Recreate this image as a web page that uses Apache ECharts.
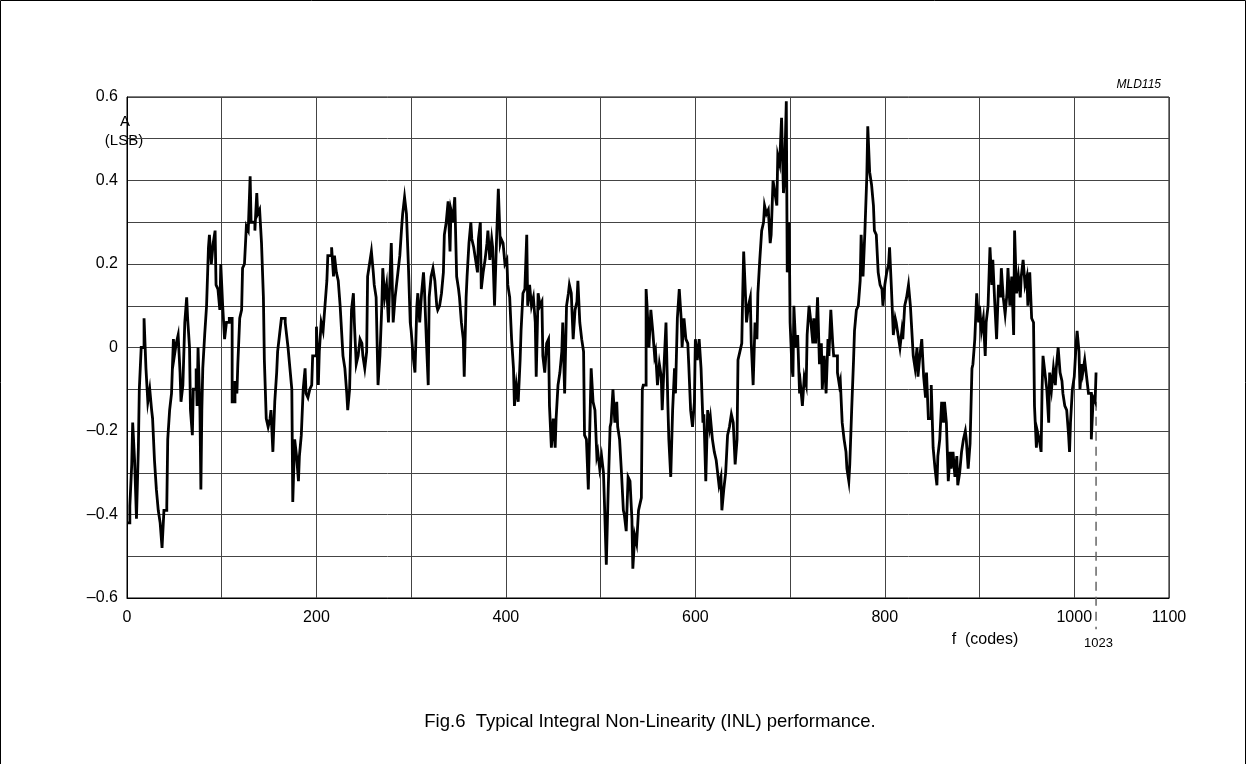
<!DOCTYPE html>
<html><head><meta charset="utf-8">
<script src="https://cdn.jsdelivr.net/npm/echarts@6/dist/echarts.min.js"></script>
<style>html,body{margin:0;padding:0;background:#fff}#c{width:1247px;height:764px}</style>
</head><body><div id="c"></div>
<script>
// INL samples: [code, A (LSB)]
const inlSamples = [
[0,-0.42],[3,-0.38],[5,-0.28],[6,-0.18],[8,-0.27],[10,-0.41],[12,-0.24],[13,-0.10],[14,-0.05],[15,0.00],[18,0.07],[20,-0.05],[22,-0.13],[24,-0.10],[26,-0.15],[27,-0.17],[29,-0.27],[31,-0.34],[33,-0.39],[35,-0.42],[37,-0.48],[39,-0.39],[42,-0.38],[43,-0.22],[45,-0.15],[47,-0.11],[49,0.02],[50,-0.02],[52,0.01],[54,0.03],[56,-0.06],[57,-0.13],[59,-0.09],[61,0.06],[63,0.12],[64,0.07],[66,0.00],[67,-0.15],[69,-0.21],[70,-0.10],[73,-0.05],[74,-0.14],[75,0.00],[77,-0.15],[78,-0.34],[79,-0.15],[80,-0.05],[82,0.03],[84,0.10],[86,0.24],[87,0.27],[89,0.20],[91,0.25],[93,0.28],[94,0.15],[96,0.14],[98,0.09],[99,0.20],[101,0.10],
[103,0.02],[105,0.06],[108,0.07],[111,-0.13],[114,-0.08],[116,-0.11],[117,-0.04],[119,0.07],[121,0.09],[122,0.19],[124,0.20],[126,0.29],[128,0.28],[130,0.41],[131,0.30],[133,0.30],[135,0.28],[137,0.37],[138,0.32],[140,0.33],[142,0.25],[144,0.12],[145,-0.03],[147,-0.17],[149,-0.19],[151,-0.17],[152,-0.15],[154,-0.25],[156,-0.13],[158,-0.06],[159,-0.01],[161,0.03],[163,0.07],[165,0.07],[167,0.06],[168,0.04],[170,0.00],[172,-0.05],[174,-0.10],[175,-0.37],[177,-0.22],[179,-0.26],[181,-0.32],[182,-0.26],[184,-0.21],[186,-0.10],[188,-0.05],[189,-0.11],[191,-0.12],[193,-0.10],[195,-0.09],[196,-0.02],[198,-0.02],[200,0.05],[202,-0.09],[203,-0.01],[205,0.06],[207,0.04],[209,0.10],[211,0.16],[212,0.22],
[214,0.22],[216,0.24],[218,0.17],[219,0.22],[221,0.18],[223,0.16],[225,0.10],[226,0.06],[228,-0.02],[230,-0.05],[232,-0.11],[233,-0.15],[235,-0.10],[237,0.09],[239,0.13],[240,0.06],[242,-0.04],[244,-0.02],[246,0.02],[248,0.01],[249,-0.02],[251,-0.05],[253,-0.01],[254,0.17],[256,0.20],[258,0.23],[260,0.18],[261,0.15],[263,0.12],[265,-0.09],[267,-0.02],[269,0.10],[270,0.19],[272,0.12],[274,0.15],[276,0.06],[277,0.13],[279,0.25],[281,0.06],[283,0.12],[284,0.14],[286,0.18],[288,0.22],[290,0.29],[291,0.32],[293,0.36],[295,0.32],[297,0.20],[299,0.06],[300,0.04],[302,-0.02],[304,-0.06],[306,0.10],[307,0.13],[309,0.06],[311,0.13],[313,0.18],[314,0.14],[316,0.02],[318,-0.09],[319,0.12],
[321,0.17],[323,0.19],[325,0.16],[327,0.10],[328,0.09],[330,0.10],[332,0.13],[334,0.18],[335,0.27],[337,0.30],[339,0.35],[341,0.23],[342,0.33],[343,0.32],[344,0.30],[346,0.36],[348,0.17],[350,0.14],[351,0.12],[353,0.06],[355,0.02],[356,-0.07],[358,0.12],[359,0.17],[361,0.25],[363,0.30],[364,0.26],[366,0.24],[368,0.21],[370,0.18],[371,0.26],[373,0.30],[374,0.14],[376,0.18],[378,0.21],[380,0.25],[381,0.28],[383,0.21],[385,0.26],[386,0.24],[388,0.10],[390,0.25],[392,0.38],[394,0.25],[395,0.26],[397,0.25],[399,0.20],[401,0.21],[402,0.15],[404,0.12],[406,0.02],[408,-0.05],[409,-0.14],[411,-0.09],[413,-0.13],[415,-0.03],[416,0.04],[418,0.13],[420,0.14],[422,0.27],[423,0.10],
[425,0.15],[427,0.10],[429,0.12],[431,0.06],[432,-0.07],[434,0.13],[436,0.10],[438,0.11],[439,-0.02],[441,-0.06],[443,0.01],[445,0.02],[446,-0.14],[448,-0.24],[450,-0.17],[452,-0.24],[453,-0.17],[455,-0.09],[457,-0.06],[459,-0.01],[460,0.06],[462,-0.11],[464,0.10],[466,0.13],[467,0.15],[469,0.13],[471,0.02],[473,0.09],[475,0.11],[476,0.16],[478,0.06],[480,0.02],[482,-0.01],[483,-0.21],[485,-0.22],[487,-0.34],[489,-0.15],[490,-0.05],[492,-0.13],[494,-0.15],[496,-0.26],[497,-0.25],[499,-0.29],[501,-0.26],[503,-0.30],[504,-0.37],[506,-0.52],[508,-0.34],[510,-0.19],[511,-0.18],[513,-0.10],[515,-0.18],[517,-0.13],[518,-0.19],[520,-0.22],[522,-0.30],[524,-0.39],[525,-0.40],[527,-0.44],[529,-0.31],
[531,-0.32],[533,-0.41],[534,-0.53],[536,-0.45],[538,-0.47],[540,-0.39],[541,-0.38],[543,-0.36],[544,-0.10],[545,-0.09],[548,0.14],[549,0.10],[551,0.00],[553,0.09],[555,0.04],[557,-0.02],[558,-0.01],[560,-0.09],[562,-0.04],[564,-0.07],[565,-0.15],[567,-0.04],[569,0.06],[571,-0.14],[572,-0.22],[574,-0.31],[576,-0.15],[578,-0.05],[579,-0.11],[581,0.07],[583,0.14],[585,0.07],[586,0.00],[588,0.07],[590,0.02],[592,0.01],[593,-0.04],[595,-0.15],[597,-0.19],[599,-0.13],[600,0.02],[602,-0.03],[604,0.02],[606,-0.05],[608,-0.18],[609,-0.16],[611,-0.32],[613,-0.15],[615,-0.19],[616,-0.17],[618,-0.22],[620,-0.25],[622,-0.27],[623,-0.29],[625,-0.33],[627,-0.31],[628,-0.39],[630,-0.34],[632,-0.30],[634,-0.21],[636,-0.19],
[638,-0.16],[640,-0.18],[642,-0.28],[644,-0.22],[645,-0.03],[647,-0.01],[649,0.01],[650,0.13],[651,0.23],[653,0.12],[654,0.06],[656,0.10],[658,0.12],[659,0.01],[661,-0.09],[663,0.06],[665,0.02],[666,0.13],[668,0.21],[670,0.28],[672,0.30],[673,0.34],[675,0.32],[677,0.33],[679,0.25],[680,0.27],[682,0.40],[684,0.37],[686,0.34],[687,0.46],[689,0.44],[691,0.55],[693,0.37],[694,0.40],[696,0.59],[697,0.18],[699,0.30],[700,0.06],[702,-0.05],[703,-0.07],[704,0.10],[706,0.00],[708,0.03],[710,-0.11],[711,-0.09],[713,-0.14],[715,-0.07],[717,-0.09],[718,0.03],[720,0.10],[722,0.06],[724,0.01],[725,0.07],[727,0.01],[729,0.12],[731,-0.04],[733,0.01],[734,-0.10],[736,-0.02],[738,-0.11],[740,0.02],
[741,-0.02],[743,0.09],[745,0.01],[746,-0.02],[748,-0.02],[750,-0.06],[752,-0.09],[753,-0.08],[755,-0.18],[757,-0.22],[759,-0.25],[760,-0.29],[762,-0.32],[763,-0.28],[765,-0.15],[767,-0.03],[768,0.04],[770,0.09],[772,0.10],[774,0.16],[775,0.27],[777,0.17],[779,0.28],[781,0.41],[782,0.53],[784,0.42],[786,0.39],[788,0.34],[789,0.28],[791,0.27],[793,0.18],[795,0.15],[797,0.14],[798,0.10],[800,0.15],[802,0.18],[804,0.20],[805,0.24],[807,0.14],[809,0.03],[811,0.07],[812,0.06],[814,0.03],[816,0.00],[818,0.04],[819,0.02],[821,0.10],[823,0.12],[825,0.15],[827,0.10],[828,0.06],[830,-0.02],[832,-0.05],[834,0.00],[835,-0.07],[837,-0.02],[839,0.02],[841,-0.07],[843,-0.12],[844,-0.06],[846,-0.17],
[849,-0.09],[851,-0.24],[853,-0.29],[855,-0.33],[856,-0.26],[858,-0.22],[860,-0.13],[862,-0.18],[863,-0.13],[865,-0.18],[867,-0.32],[869,-0.25],[870,-0.29],[872,-0.25],[874,-0.31],[876,-0.26],[877,-0.33],[879,-0.30],[881,-0.25],[883,-0.22],[885,-0.20],[886,-0.22],[888,-0.29],[890,-0.23],[892,-0.05],[893,-0.04],[895,0.02],[897,0.13],[899,0.06],[900,0.10],[902,0.04],[904,0.07],[906,-0.02],[907,0.06],[909,0.10],[911,0.24],[913,0.15],[914,0.21],[916,0.11],[918,0.02],[920,0.15],[922,0.12],[923,0.19],[925,0.12],[927,0.08],[929,0.13],[930,0.19],[932,0.10],[934,0.17],[936,0.03],[937,0.28],[939,0.13],[941,0.17],[943,0.12],[944,0.17],[946,0.21],[948,0.15],[950,0.17],[951,0.10],
[953,0.18],[955,0.07],[957,0.06],[958,-0.14],[960,-0.24],[961,-0.20],[963,-0.22],[965,-0.25],[966,-0.10],[967,-0.02],[969,-0.06],[971,-0.10],[973,-0.18],[974,-0.06],[976,-0.10],[978,-0.05],[980,-0.09],[981,-0.05],[983,0.00],[985,-0.06],[987,-0.08],[988,-0.11],[990,-0.14],[992,-0.15],[994,-0.21],[995,-0.25],[996,-0.18],[998,-0.10],[1000,-0.07],[1002,0.01],[1003,0.04],[1005,-0.01],[1006,-0.10],[1008,-0.04],[1009,-0.06],[1011,-0.03],[1013,-0.07],[1015,-0.11],[1016,-0.11],[1018,-0.22],[1020,-0.12],[1022,-0.13],[1023,-0.06]
];
const lastCode = 1023;
const lastCodeLow = -0.13;
const xTickLabels = {0:'0',200:'200',400:'400',600:'600',800:'800',1000:'1000',1100:'1100'};
const yTickLabels = {'6':'0.6','4':'0.4','2':'0.2','0':'0','-2':'\u20130.2','-4':'\u20130.4','-6':'\u20130.6'};

const chart = echarts.init(document.getElementById('c'), null, {renderer:'canvas'});
const FONT = 'Liberation Sans, Arial, sans-serif';
chart.setOption({
  animation:false,
  backgroundColor:'#fff',
  grid:{left:127,right:78,top:97,bottom:166,show:true,borderColor:'#000',borderWidth:1,backgroundColor:'transparent'},
  xAxis:{type:'value',min:0,max:1100,interval:100,
    axisLine:{onZero:false,lineStyle:{color:'#000',width:1}},
    axisTick:{show:false},
    splitLine:{show:true,lineStyle:{color:'#444',width:1}},
    axisLabel:{color:'#000',fontFamily:FONT,fontSize:16,margin:12,
      formatter:v=>xTickLabels[Math.round(v)]||''}},
  yAxis:{type:'value',min:-0.6,max:0.6,interval:0.1,
    axisLine:{onZero:false,lineStyle:{color:'#000',width:1}},
    axisTick:{show:false},
    splitLine:{show:true,lineStyle:{color:'#444',width:1}},
    axisLabel:{color:'#000',fontFamily:FONT,fontSize:16,margin:9,
      formatter:v=>{const k=String(Math.round(v*10));return yTickLabels[k]!==undefined?yTickLabels[k]:'';}}},
  series:[
    {type:'line',data:inlSamples,step:'end',showSymbol:false,symbol:'none',
     lineStyle:{color:'#000',width:2.8,join:'miter'},z:3},
    {type:'line',data:[[lastCode,lastCodeLow],[lastCode,-0.675]],clip:false,showSymbol:false,symbol:'none',
     lineStyle:{color:'#666',width:1.5,type:[9,6]},z:2,
     endLabel:{show:true,formatter:'1023',color:'#000',fontFamily:FONT,fontSize:13,offset:[-20,14]}}
  ],
  graphic:[
    {type:'rect',shape:{x:0.5,y:0.5,width:1245,height:800},style:{fill:null,stroke:'#000',lineWidth:1},silent:true},
    {type:'text',x:125,y:122,style:{text:'A',font:'15px '+FONT,fill:'#000',align:'center',verticalAlign:'middle'}},
    {type:'text',x:124,y:141,style:{text:'(LSB)',font:'15px '+FONT,fill:'#000',align:'center',verticalAlign:'middle'}},
    {type:'text',x:1161,y:85,style:{text:'MLD115',font:'italic 12px '+FONT,fill:'#000',align:'right',verticalAlign:'middle'}},
    {type:'text',x:985,y:640,style:{text:'f  (codes)',font:'16px '+FONT,fill:'#000',align:'center',verticalAlign:'middle'}},
    {type:'text',x:650,y:722,style:{text:'Fig.6  Typical Integral Non-Linearity (INL) performance.',font:'18.5px '+FONT,fill:'#000',align:'center',verticalAlign:'middle'}}
  ]
});
</script></body></html>
